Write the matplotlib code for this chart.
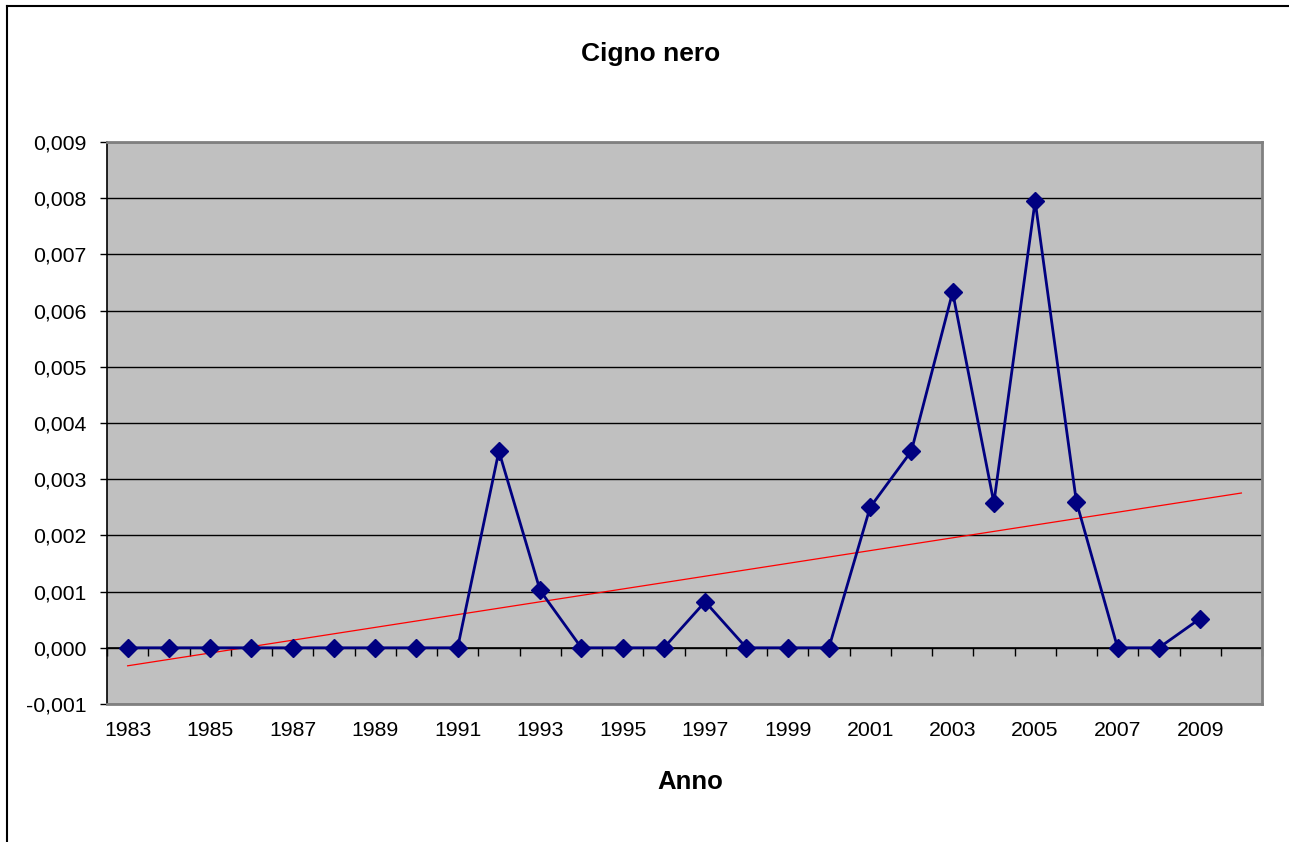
import numpy as np
import matplotlib
matplotlib.use("Agg")
import matplotlib.pyplot as plt
from matplotlib.lines import Line2D
from matplotlib.ticker import FuncFormatter

plt.rcParams['font.family'] = ['Liberation Sans', 'DejaVu Sans']

years = list(range(1983, 2011))          # category axis (2010 has no value)
data_years = list(range(1983, 2010))
values = [0, 0, 0, 0, 0, 0, 0, 0, 0,
          0.0035, 0.00102, 0, 0, 0, 0.00082, 0, 0, 0,
          0.0025, 0.0035, 0.00633, 0.00258, 0.00795, 0.0026,
          0, 0, 0.00052]
label_years = list(range(1983, 2010, 2))

fig = plt.figure(figsize=(12.89, 8.42), dpi=100)
ax = fig.add_axes([107/1289, 1 - 704/842, (1262-107)/1289, (704-142)/842])
ax.set_facecolor('#C0C0C0')

xi = np.array([years.index(y) for y in data_years])
vals = np.array(values)

# linear trend line, extended to the last category
coef = np.polyfit(xi, vals, 1)
xt = np.array([0, len(years) - 1])
ax.plot(xt, np.polyval(coef, xt), color='#FF0000', lw=0.9, zorder=4)

ax.plot(xi, vals, color='#000080', lw=2.0, marker='D', markersize=9,
        markerfacecolor='#000080', markeredgecolor='#000080', zorder=5)

ax.set_xlim(-0.5, len(years) - 0.5)
ax.set_ylim(-0.001, 0.009)
ax.set_yticks(np.arange(-0.001, 0.0091, 0.001))
ax.yaxis.set_major_formatter(FuncFormatter(lambda v, p: f"{v:.3f}".replace('.', ',').replace('-0,000', '0,000')))
ax.grid(axis='y', color='#000000', lw=1.0, zorder=1)
ax.set_axisbelow(True)

ax.set_xticks([years.index(y) for y in label_years])
ax.set_xticklabels([str(y) for y in label_years])
ax.tick_params(axis='x', length=0, pad=12, labelsize=15.3, colors='#000000')
ax.tick_params(axis='y', length=5, width=1, direction='out', pad=10, labelsize=15.3)

for s in ['top', 'right', 'bottom']:
    ax.spines[s].set_color('#808080')
    ax.spines[s].set_linewidth(2)
ax.spines['left'].set_color('#000000')
ax.spines['left'].set_linewidth(1.2)

# category axis crossing at zero, with tick marks between categories
zero_pos = (0 - (-0.001)) / (0.009 - (-0.001))
sec = ax.secondary_xaxis(zero_pos)
sec.set_xticks(np.arange(-0.5, len(years), 1.0))
sec.set_xticklabels([])
sec.tick_params(length=6, width=1, direction='out', colors='#000000')
sec.spines['bottom'].set_color('#000000')
sec.spines['bottom'].set_linewidth(1.2)

fig.text(651/1289, 1 - 54/842, 'Cigno nero', ha='center', va='center',
         fontsize=19, fontweight='bold')
ax.set_xlabel('Anno', fontsize=18.5, fontweight='bold')
ax.xaxis.label.set_va('center')
ax.xaxis.set_label_coords((690 - 107) / 1155, (704 - 782) / 562)

# outer chart frame (left and top edges visible)
fig.add_artist(Line2D([7/1289, 7/1289], [0, 1 - 6/842], transform=fig.transFigure, color='black', lw=1.5))
fig.add_artist(Line2D([7/1289, 1], [1 - 6/842, 1 - 6/842], transform=fig.transFigure, color='black', lw=1.5))

fig.savefig('out.png', dpi=100)
